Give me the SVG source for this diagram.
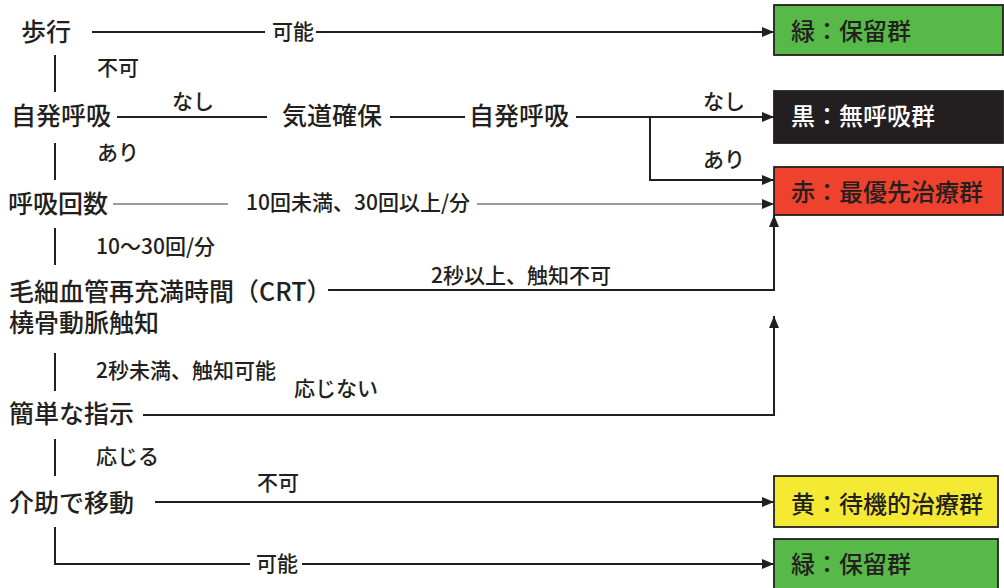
<svg xmlns="http://www.w3.org/2000/svg" width="1004" height="588" viewBox="0 0 1004 588">
<style>
text{font-family:"Noto Sans CJK JP","Liberation Sans",sans-serif;fill:#231f20;font-weight:500}
.m{font-size:25px}
.c{font-size:21px}
.b{font-size:24px}
.w{fill:#ffffff}
.ln{fill:none;stroke:#231f20;stroke-width:2}
.th{fill:none;stroke:#3a3a3a;stroke-width:1.2}
.bx{stroke:#231f20;stroke-width:1.8}
</style>
<defs>
<marker id="ah" viewBox="0 0 12 10" refX="12" refY="5" markerWidth="12" markerHeight="10" markerUnits="userSpaceOnUse" orient="auto">
<path d="M0,0 L12,5 L0,10 z" fill="#231f20"/>
</marker>
</defs>
<rect width="1004" height="588" fill="#ffffff"/>
<g id="connectors">
<path class="ln" d="M92,32 H265"/>
<path class="ln" d="M316,32 H774" marker-end="url(#ah)"/>
<path class="ln" d="M55,55 V92"/>
<path class="ln" d="M117,117 H267"/>
<path class="ln" d="M390,117 H465"/>
<path class="ln" d="M576,117 H774" marker-end="url(#ah)"/>
<path class="ln" d="M650,117 V180 H774" marker-end="url(#ah)"/>
<path class="ln" d="M55,143 V180"/>
<path class="th" d="M113,204 H228"/>
<path class="th" d="M477,204 H774" marker-end="url(#ah)"/>
<path class="ln" d="M55,228 V265"/>
<path class="ln" d="M328,290 H774 V215" marker-end="url(#ah)"/>
<path class="ln" d="M55,353 V391"/>
<path class="ln" d="M143,415 H774 V316" marker-end="url(#ah)"/>
<path class="ln" d="M55,439 V476"/>
<path class="ln" d="M155,502 H774" marker-end="url(#ah)"/>
<path class="ln" d="M55,527 V564 H250"/>
<path class="ln" d="M302,564 H774" marker-end="url(#ah)"/>
<text class="c" x="272" y="39">可能</text>
<text class="c" x="97" y="75">不可</text>
<text class="c" x="172" y="109">なし</text>
<text class="c" x="97" y="160">あり</text>
<text class="c" x="703" y="109">なし</text>
<text class="c" x="703" y="167">あり</text>
<text class="c" x="246" y="210">10回未満、30回以上/分</text>
<text class="c" x="96" y="254">10～30回/分</text>
<text class="c" x="431" y="283">2秒以上、触知不可</text>
<text class="c" x="96" y="378">2秒未満、触知可能</text>
<text class="c" x="294" y="396">応じない</text>
<text class="c" x="96" y="464">応じる</text>
<text class="c" x="257" y="490">不可</text>
<text class="c" x="256" y="571">可能</text>
</g>
<g id="n-walk"><text class="m" x="21" y="41">歩行</text></g>
<g id="n-breath1"><text class="m" x="11" y="125">自発呼吸</text></g>
<g id="n-airway"><text class="m" x="282" y="125">気道確保</text></g>
<g id="n-breath2"><text class="m" x="469" y="125">自発呼吸</text></g>
<g id="n-rate"><text class="m" x="8" y="213">呼吸回数</text></g>
<g id="n-crt"><text class="m" x="9" y="301">毛細血管再充満時間（CRT）</text><text class="m" x="9" y="332">橈骨動脈触知</text></g>
<g id="n-command"><text class="m" x="9" y="423">簡単な指示</text></g>
<g id="n-move"><text class="m" x="9" y="512">介助で移動</text></g>
<g id="b-green1"><rect class="bx" x="774" y="5" width="229" height="50" fill="#57b947"/><text class="b" x="791" y="40">緑：保留群</text></g>
<g id="b-black"><rect class="bx" x="774" y="91" width="229" height="52" fill="#231f20"/><text class="b w" x="791" y="125">黒：無呼吸群</text></g>
<g id="b-red"><rect class="bx" x="774" y="167" width="229" height="48" fill="#ee412e"/><text class="b" x="791" y="201">赤：最優先治療群</text></g>
<g id="b-yellow"><rect class="bx" x="774" y="476" width="224" height="51" fill="#f5ea33"/><text class="b" x="791" y="513">黄：待機的治療群</text></g>
<g id="b-green2"><rect class="bx" x="774" y="539" width="224" height="52" fill="#57b947"/><text class="b" x="791" y="573">緑：保留群</text></g>
</svg>
